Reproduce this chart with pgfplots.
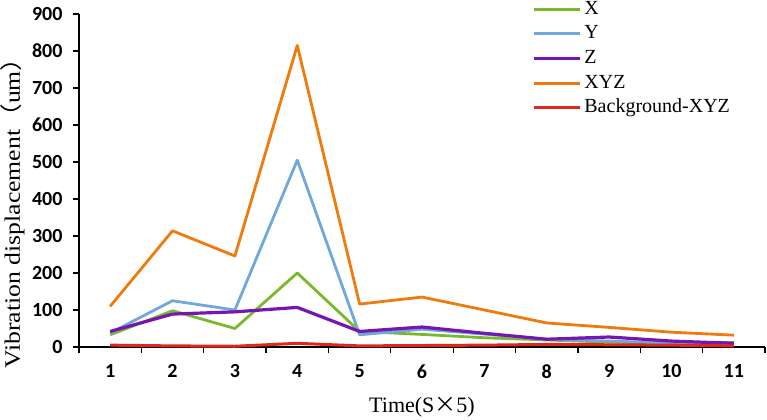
\documentclass[border=0pt]{standalone}
\usepackage{pgfplots}
\pgfplotsset{compat=1.18}
\usepackage{fontspec}
\setmainfont{Liberation Serif}
\newfontfamily\tickfont{Carlito}
\newfontfamily\cjk{Noto Sans CJK SC}

\definecolor{cX}{RGB}{122,186,42}
\definecolor{cY}{RGB}{112,168,218}
\definecolor{cZ}{RGB}{118,22,178}
\definecolor{cXYZ}{RGB}{240,122,12}
\definecolor{cBG}{RGB}{222,40,30}

\begin{document}
\begin{tikzpicture}
\path[use as bounding box] (-79bp,-73bp) rectangle (688bp,347bp);
\begin{axis}[
  at={(0,0)}, anchor=origin,
  scale only axis,
  width=686bp, height=333bp,
  xmin=0.5, xmax=11.5,
  ymin=0, ymax=900,
  axis x line=bottom, axis y line=left,
  axis line style={-, line width=1.3bp, black},
  xtick={1,...,11},
  major x tick style={draw=none},
  minor xtick={0.5,1.5,...,11.5},
  minor tick length=6bp,
  ytick={0,100,...,900},
  major tick length=6bp,
  tick align=outside,
  tick style={line width=1.3bp, black},
  /pgf/number format/assume math mode=true,
  tick label style={font=\tickfont\bfseries\fontsize{20bp}{24bp}\selectfont},
  yticklabel style={xshift=-7bp},
  xticklabel style={yshift=-8bp},
  xlabel={Time(S{\cjk ×}5)},
  ylabel={\scalebox{1.17}[1]{Vibration displacement{\cjk （}um{\cjk ）}}},
  label style={font=\fontsize{22bp}{26bp}\selectfont},
  xlabel style={at={(axis description cs:0.5,0)}, anchor=center, yshift=-60bp},
  ylabel style={at={(axis description cs:-0.0965,0.42)}, anchor=center},
  legend style={
    at={(453bp,347bp)}, anchor=north west,
    draw=none, fill=none, inner sep=0pt,
    font=\fontsize{20bp}{24bp}\selectfont,
    nodes={inner sep=0pt, text height=14bp, text depth=4bp},
    row sep=6.7bp,
    /tikz/every odd column/.append style={column sep=3bp},
  },
  legend cell align=left,
  legend image code/.code={\draw[#1] (0bp,0bp) -- (46bp,0bp);},
  clip=false,
]
\addplot[cX, line width=2.8bp, line join=round] coordinates {(1,33) (2,98) (3,50) (4,200) (5,42) (6,34) (7,25) (8,19) (9,13) (10,11) (11,12)};
\addlegendentry{X}
\addplot[cY, line width=2.8bp, line join=round] coordinates {(1,38) (2,125) (3,100) (4,505) (5,33) (6,48) (7,35) (8,21) (9,16) (10,11) (11,7)};
\addlegendentry{Y}
\addplot[cZ, line width=3.2bp, line join=round] coordinates {(1,42) (2,89) (3,95) (4,107) (5,42) (6,54) (7,37) (8,21) (9,27) (10,16) (11,10)};
\addlegendentry{Z}
\addplot[cXYZ, line width=2.8bp, line join=round] coordinates {(1,110) (2,314) (3,246) (4,815) (5,116) (6,135) (7,100) (8,65) (9,53) (10,40) (11,32)};
\addlegendentry{XYZ}
\addplot[cBG, line width=3bp, line join=round] coordinates {(1,5) (2,3) (3,2) (4,10) (5,3) (6,4) (7,5) (8,7) (9,6) (10,5) (11,3)};
\addlegendentry{Background-XYZ}
\end{axis}
\end{tikzpicture}
\end{document}
